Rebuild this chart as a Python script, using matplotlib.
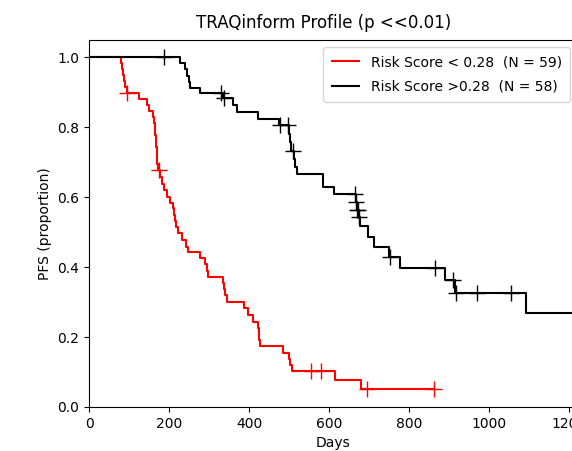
import matplotlib
matplotlib.use("Agg")
import matplotlib.pyplot as plt

# Low-risk group (red) step curve
red_t = [0, 80, 83, 86, 88, 91, 94, 125, 146, 150, 160, 163, 165, 166, 167, 168,
         169, 170, 171, 172, 178, 183, 187, 195, 203, 210, 213, 215, 217, 222, 232,
         242, 248, 278, 290, 295, 298, 335, 337, 339, 345, 388, 398, 410, 422, 424,
         426, 428, 485, 500, 502, 507, 615, 680, 862]
red_s = [1.0, 0.983, 0.966, 0.949, 0.932, 0.915, 0.898, 0.881, 0.864, 0.847, 0.830,
         0.813, 0.796, 0.779, 0.762, 0.745, 0.728, 0.711, 0.694, 0.677, 0.658, 0.639,
         0.620, 0.600, 0.585, 0.569, 0.550, 0.532, 0.514, 0.497, 0.477, 0.457, 0.443,
         0.426, 0.408, 0.389, 0.371, 0.354, 0.337, 0.320, 0.300, 0.283, 0.263, 0.243,
         0.226, 0.209, 0.191, 0.174, 0.154, 0.137, 0.120, 0.103, 0.077, 0.051, 0.051]
red_ct = [95, 175, 555, 580, 695, 862]
red_cs = [0.898, 0.677, 0.103, 0.103, 0.051, 0.051]

# High-risk group (black) step curve
black_t = [0, 228, 240, 245, 250, 253, 277, 334, 360, 370, 422, 475, 500, 502, 505,
           512, 515, 520, 585, 613, 667, 670, 674, 678, 698, 712, 750, 778, 890, 915,
           1093, 1250]
black_s = [1.0, 0.983, 0.966, 0.948, 0.931, 0.914, 0.897, 0.883, 0.863, 0.843, 0.823,
           0.806, 0.782, 0.757, 0.733, 0.710, 0.687, 0.667, 0.629, 0.609, 0.587, 0.565,
           0.543, 0.517, 0.486, 0.457, 0.429, 0.397, 0.363, 0.326, 0.269, 0.269]
black_ct = [188, 330, 338, 477, 497, 510, 665, 668, 671, 673, 676, 752, 865, 910,
            917, 970, 1055]
black_cs = [1.0, 0.897, 0.883, 0.806, 0.806, 0.733, 0.609, 0.587, 0.565, 0.565,
            0.543, 0.429, 0.397, 0.363, 0.326, 0.326, 0.326]

labels = ["Risk Score < 0.28  (N = 59)", "Risk Score >0.28  (N = 58)"]
title = "TRAQinform Profile (p <<0.01)"
xticks = [0, 200, 400, 600, 800, 1000, 1200]
yticks = [0.0, 0.2, 0.4, 0.6, 0.8, 1.0]

plt.rcParams['font.family'] = ['DejaVu Sans']
plt.rcParams['font.size'] = 10

fig = plt.figure(figsize=(5.72, 4.51), dpi=100)
ax = fig.add_axes([89 / 572, 44 / 451, (577 - 89) / 572, (407 - 40) / 451])

ax.step(red_t, red_s, where='post', color='red', lw=1.5, label=labels[0])
ax.plot(red_ct, red_cs, '+', color='red', ms=12, mew=1)
ax.step(black_t, black_s, where='post', color='black', lw=1.5, label=labels[1])
ax.plot(black_ct, black_cs, '+', color='black', ms=12, mew=1)

ax.set_xlim(0, 1220)
ax.set_ylim(0, 1.05)
ax.set_xticks(xticks)
ax.set_yticks(yticks)
ax.set_yticklabels([f"{v:.1f}" for v in yticks])
ax.set_xlabel("Days")
ax.set_ylabel("PFS (proportion)")
ax.set_title(title, fontsize=12, x=0.48, pad=9)
ax.legend(loc='upper right', labelspacing=0.75, borderpad=0.6)

fig.savefig("out.png", dpi=100)
